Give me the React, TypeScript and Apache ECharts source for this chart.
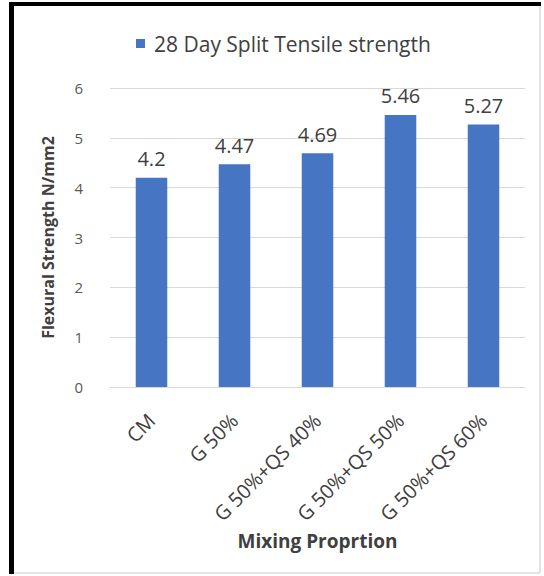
import React, { useEffect, useRef } from "react";
import * as echarts from "echarts";

const categories = ["CM", "G 50%", "G 50%+QS 40%", "G 50%+QS 50%", "G 50%+QS 60%"];
const strengthValues = [4.2, 4.47, 4.69, 5.46, 5.27];
const seriesName = "28 Day Split Tensile strength";
const yAxisTitle = "Flexural Strength N/mm2";
const xAxisTitle = "Mixing Proprtion";

const FONT = "'Open Sans', 'Noto Sans', sans-serif";

export default function App() {
  const ref = useRef<HTMLDivElement>(null);

  useEffect(() => {
    if (!ref.current) return;
    const chart = echarts.init(ref.current, undefined, { renderer: "svg" });
    chart.setOption({
      animation: false,
      backgroundColor: "#ffffff",
      textStyle: { fontFamily: FONT },
      legend: {
        data: [seriesName],
        top: 28,
        left: 131,
        icon: "rect",
        itemWidth: 9,
        itemHeight: 9,
        textStyle: {
          fontFamily: FONT,
          fontSize: 21,
          color: "#404040",
          padding: [0, 0, 0, 4],
        },
      },
      grid: { left: 110, right: 19, top: 88, bottom: 189 },
      xAxis: {
        type: "category",
        data: categories,
        name: xAxisTitle,
        nameLocation: "middle",
        nameGap: 138,
        nameTextStyle: { fontFamily: FONT, fontSize: 19, fontWeight: "bold", color: "#404040" },
        axisLine: { lineStyle: { color: "#d9d9d9", width: 1 } },
        axisTick: { show: false },
        axisLabel: {
          interval: 0,
          rotate: 45,
          margin: 30,
          fontFamily: FONT,
          fontSize: 20,
          color: "#404040",
        },
      },
      yAxis: {
        type: "value",
        min: 0,
        max: 6,
        interval: 1,
        name: yAxisTitle,
        nameLocation: "middle",
        nameGap: 54,
        nameTextStyle: { fontFamily: FONT, fontSize: 16, fontWeight: "bold", color: "#404040" },
        axisLine: { show: false },
        axisTick: { show: false },
        axisLabel: { fontFamily: FONT, fontSize: 15, color: "#595959", margin: 27 },
        splitLine: { lineStyle: { color: "#d9d9d9", width: 1 } },
      },
      series: [
        {
          name: seriesName,
          type: "bar",
          data: strengthValues,
          barWidth: "38%",
          itemStyle: { color: "#4675c3" },
          label: {
            show: true,
            position: "top",
            distance: 9,
            fontFamily: FONT,
            fontSize: 20,
            color: "#404040",
          },
        },
      ],
      graphic: [
        { type: "line", shape: { x1: 540, y1: 4, x2: 540, y2: 573 }, style: { stroke: "#c8c8c8", lineWidth: 1 } },
        { type: "line", shape: { x1: 10, y1: 573, x2: 540, y2: 573 }, style: { stroke: "#c8c8c8", lineWidth: 1 } },
        { type: "line", shape: { x1: 9, y1: 4, x2: 541, y2: 4 }, style: { stroke: "#000000", lineWidth: 4 } },
        { type: "line", shape: { x1: 11.5, y1: 2, x2: 11.5, y2: 574 }, style: { stroke: "#000000", lineWidth: 5 } },
      ],
    });
    return () => chart.dispose();
  }, []);

  return (
    <div
      ref={ref}
      style={{ position: "fixed", left: 0, top: 0, width: 544, height: 576, background: "#ffffff" }}
    />
  );
}
